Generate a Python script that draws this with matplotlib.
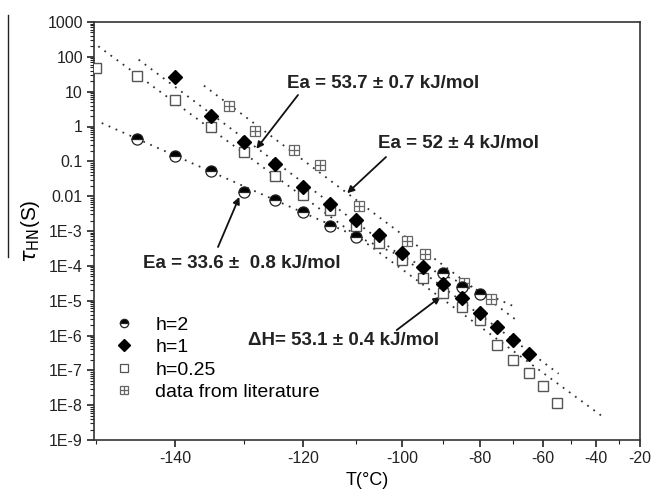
import matplotlib
matplotlib.use("Agg")
import matplotlib.pyplot as plt
from matplotlib.lines import Line2D
from matplotlib.legend_handler import HandlerTuple
from matplotlib.ticker import FixedLocator, FixedFormatter, LogLocator, NullFormatter

plt.rcParams['font.family'] = ['Liberation Sans', 'DejaVu Sans']

# data (T in degC, tau in s)
T_h2 = [-145, -140, -135, -130, -125, -120, -115, -110, -90, -85, -80]
tau_h2 = [0.435, 0.147, 0.053, 0.0135, 7.8e-3, 3.6e-3, 1.42e-3, 6.9e-4, 6.1e-5, 2.5e-5, 1.55e-5]

T_h1 = [-140, -135, -130, -125, -120, -115, -110, -105, -100, -95, -90, -85, -80, -75, -70, -65]
tau_h1 = [25.8, 1.95, 0.357, 0.085, 0.0188, 0.006, 2.07e-3, 7.7e-4, 2.4e-4, 9.0e-5,
          3.0e-5, 1.16e-5, 4.5e-6, 1.7e-6, 7.3e-7, 3.0e-7]

T_h025 = [-150, -145, -140, -135, -130, -125, -120, -115, -110, -105, -100, -95, -90,
          -85, -80, -75, -70, -65, -60, -55]
tau_h025 = [48, 27.5, 5.9, 0.94, 0.18, 0.039, 0.0109, 0.0040, 1.42e-3, 4.4e-4, 1.5e-4,
            4.4e-5, 1.7e-5, 6.4e-6, 2.7e-6, 5.2e-7, 2.0e-7, 8.4e-8, 3.5e-8, 1.15e-8]

T_lit = [-132.3, -128.2, -121.7, -116.9, -109.2, -98.9, -94.4, -84.5, -76.7]
tau_lit = [4.0, 0.72, 0.205, 0.076, 5.2e-3, 5.3e-4, 2.2e-4, 3.2e-5, 1.1e-5]

# Arrhenius fits (end points)
fit_h2_T, fit_h2_tau = [-149.3, -69.8], [1.26, 6.9e-6]
fit_h1_T, fit_h1_tau = [-144.8, -54.5], [83, 8.0e-8]
fit_h025_T, fit_h025_tau = [-149.7, -35.9], [201, 4.1e-9]
fit_lit_T, fit_lit_tau = [-136.0, -68.7], [14.9, 2.65e-6]

xticks = [-140, -120, -100, -80, -60, -40, -20]
xminor = [-150, -130, -110, -90, -70, -50, -30]
yticks = [1e3, 1e2, 1e1, 1, 1e-1, 1e-2, 1e-3, 1e-4, 1e-5, 1e-6, 1e-7, 1e-8, 1e-9]
ylabels = ["1000", "100", "10", "1", "0.1", "0.01", "1E-3", "1E-4", "1E-5", "1E-6",
           "1E-7", "1E-8", "1E-9"]


def fwd(t):
    return -1000.0 / (t + 273.15)


def inv(u):
    return -1000.0 / u - 273.15


fig = plt.figure(figsize=(6.55, 4.95), dpi=100)
ax = fig.add_axes([94/655, 1-440/495, 546/655, 418/495])
ax.set_xscale('function', functions=(fwd, inv))
ax.set_yscale('log')

dot = dict(color='#333333', lw=1.3, ls=(0, (1, 3.2)))
ax.plot(fit_h2_T, fit_h2_tau, **dot)
ax.plot(fit_h1_T, fit_h1_tau, **dot)
ax.plot(fit_h025_T, fit_h025_tau, **dot)
ax.plot(fit_lit_T, fit_lit_tau, **dot)

ax.plot(T_lit, tau_lit, ls='none', marker='s', ms=7, mfc='white', mec='#666666', mew=0.9, zorder=3)
ax.plot(T_lit, tau_lit, ls='none', marker='+', ms=7, mec='#666666', mew=0.9, zorder=3)
ax.plot(T_h025, tau_h025, ls='none', marker='s', ms=7.5, mfc='white', mec='#555555', mew=1.0, zorder=4)
ax.plot(T_h2, tau_h2, ls='none', marker='o', ms=8, fillstyle='top', mfc='black',
        mfcalt='white', mec='#222222', mew=0.9, zorder=5)
ax.plot(T_h1, tau_h1, ls='none', marker='D', ms=7, mfc='black', mec='black', zorder=6)

ax.set_xlim(inv(fwd(-150.2)), -20)
ax.set_ylim(1e-9, 1e3)

ax.xaxis.set_major_locator(FixedLocator(xticks))
ax.xaxis.set_major_formatter(FixedFormatter([str(t) for t in xticks]))
ax.xaxis.set_minor_locator(FixedLocator(xminor))
ax.xaxis.set_minor_formatter(NullFormatter())
ax.yaxis.set_major_locator(FixedLocator(yticks))
ax.yaxis.set_major_formatter(FixedFormatter(ylabels))
ax.yaxis.set_minor_locator(LogLocator(base=10, subs=range(2, 10), numticks=50))
ax.yaxis.set_minor_formatter(NullFormatter())
ax.tick_params(which='major', direction='out', length=5, width=1.2, labelsize=11.5,
               colors='#222222', pad=3)
ax.tick_params(which='minor', direction='out', length=3, width=0.8, colors='#222222')
for s in ax.spines.values():
    s.set_linewidth(1.2)
    s.set_color('#333333')

ax.set_xlabel('T(°C)', fontsize=13, labelpad=4)
ax.set_ylabel(r'$\tau_{\mathrm{HN}}$(S)', fontsize=15, labelpad=4)

# legend
h_h2 = Line2D([], [], ls='none', marker='o', ms=6, fillstyle='top', mfc='black',
              mfcalt='white', mec='#222222', mew=0.9)
h_h1 = Line2D([], [], ls='none', marker='D', ms=6.5, mfc='black', mec='black')
h_h025 = Line2D([], [], ls='none', marker='s', ms=6, mfc='white', mec='#555555', mew=0.9)
h_lit1 = Line2D([], [], ls='none', marker='s', ms=6, mfc='white', mec='#666666', mew=0.9)
h_lit2 = Line2D([], [], ls='none', marker='+', ms=6, mec='#666666', mew=0.9)
ax.legend([h_h2, h_h1, h_h025, (h_lit1, h_lit2)],
          ['h=2', 'h=1', 'h=0.25', 'data from literature'],
          handler_map={tuple: HandlerTuple(ndivide=1, pad=0)},
          loc='upper left', bbox_to_anchor=(0.02, 0.315), frameon=False,
          fontsize=14, handlelength=1.2, handletextpad=1.0, labelspacing=0.25,
          borderaxespad=0)

# annotations
bold = dict(fontsize=13.5, fontweight='bold', color='#222222', va='center', ha='left')
arr = dict(arrowstyle='-|>', color='#111111', lw=1.3, mutation_scale=10,
           shrinkA=0, shrinkB=0)
ax.text(0.3535, 0.854, 'Ea = 53.7 ± 0.7 kJ/mol', transform=ax.transAxes, **bold)
ax.annotate('', xy=(-128.0, 0.229), xycoords='data', xytext=(0.3736, 0.8254),
            textcoords='axes fraction', arrowprops=arr)
ax.text(0.520, 0.7105, 'Ea = 52 ± 4 kJ/mol', transform=ax.transAxes, **bold)
ax.annotate('', xy=(-111.7, 0.01216), xycoords='data', xytext=(0.5348, 0.677),
            textcoords='axes fraction', arrowprops=arr)
ax.text(0.0897, 0.4234, 'Ea = 33.6 ±  0.8 kJ/mol', transform=ax.transAxes, **bold)
ax.annotate('', xy=(-130.7, 0.0095), xycoords='data', xytext=(0.2271, 0.4617),
            textcoords='axes fraction', arrowprops=arr)
ax.text(0.282, 0.239, 'ΔH= 53.1 ± 0.4 kJ/mol', transform=ax.transAxes, **bold)
ax.annotate('', xy=(-90.6, 1.29e-5), xycoords='data', xytext=(0.5544, 0.263),
            textcoords='axes fraction', arrowprops=arr)

# stray rule left of the y label, as in the source figure
fig.add_artist(Line2D([8/655, 8/655], [1-15/495, 1-257/495], transform=fig.transFigure,
                      color='#222222', lw=1.0))

fig.savefig('out.png', dpi=100)
